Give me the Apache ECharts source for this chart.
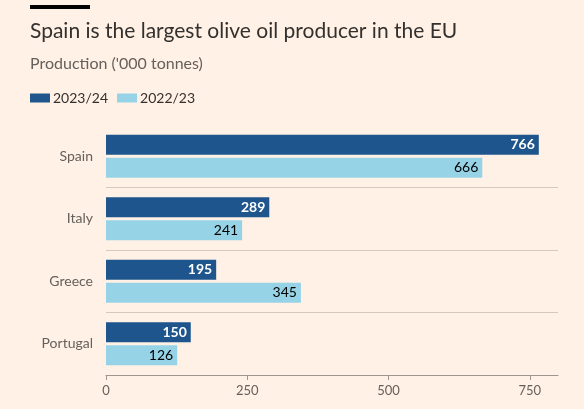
<!DOCTYPE html>
<html>
	<head>
		<meta charset="utf-8">
		<title></title>
		<script src="https://cdn.jsdelivr.net/npm/echarts@6/dist/echarts.min.js"></script>
		<style>
			html, body { margin: 0; padding: 0; background: #fff1e5; }
		</style>
	</head>
	<body>
		<div id="main" style="width: 584px;height:409px;"></div>
		<script type="text/javascript">
			// 数据
			var countries = ['Spain', 'Italy', 'Greece', 'Portugal'];
			var prod2324 = [766, 289, 195, 150];
			var prod2223 = [666, 241, 345, 126];
			var xTicks = [0, 250, 500, 750];

			var myChart = echarts.init(document.getElementById('main'));

			var option = {
				backgroundColor: '#fff1e5',
				textStyle: { fontFamily: 'Lato' },
				graphic: [
					{ type: 'rect', left: 30, top: 5, shape: { width: 60, height: 4 }, style: { fill: '#000' } }
				],
				title: [
					{
						text: 'Spain is the largest olive oil producer in the EU',
						left: 30, top: 21, padding: 0,
						textStyle: { fontFamily: 'Lato', fontSize: 21, fontWeight: 'normal', color: '#33302e' }
					},
					{
						text: "Production ('000 tonnes)",
						left: 30, top: 56, padding: 0,
						textStyle: { fontFamily: 'Lato', fontSize: 16, fontWeight: 'normal', color: '#66605c' }
					}
				],
				legend: {
					left: 30, top: 91, padding: 0,
					icon: 'rect',
					itemWidth: 20, itemHeight: 9,
					itemGap: 9,
					textStyle: { fontSize: 14, color: '#33302e', padding: [0, 0, 0, -2] },
					data: ['2023/24', '2022/23']
				},
				grid: { left: 106, right: 26, top: 125, bottom: 34 },
				xAxis: {
					type: 'value',
					min: 0, max: 800,
					axisLine: { show: true, lineStyle: { color: '#9e958e', width: 1 } },
					axisTick: { show: true, length: 5, customValues: xTicks, lineStyle: { color: '#9e958e' } },
					axisLabel: { customValues: xTicks, color: '#66605c', fontSize: 13, margin: 9 },
					splitLine: { show: false }
				},
				yAxis: {
					type: 'category',
					inverse: true,
					data: countries,
					axisLine: { show: false },
					axisTick: { show: false },
					axisLabel: { color: '#66605c', fontSize: 14, margin: 13 },
					splitLine: {
						show: true,
						interval: function (i) { return i > 0; },
						lineStyle: { color: '#d6c8bc', width: 1 }
					}
				},
				series: [
					{
						name: '2023/24',
						type: 'bar',
						data: prod2324,
						barWidth: 20,
						barGap: '15%',
						itemStyle: { color: '#1e558c' },
						label: { show: true, position: 'insideRight', distance: 4, color: '#fff', fontSize: 14, fontWeight: 'bold' }
					},
					{
						name: '2022/23',
						type: 'bar',
						data: prod2223,
						barWidth: 20,
						barGap: '15%',
						itemStyle: { color: '#97d3e6' },
						label: { show: true, position: 'insideRight', distance: 4, color: '#000', fontSize: 14 }
					}
				]
			};

			myChart.setOption(option);
		</script>
	</body>
</html>
